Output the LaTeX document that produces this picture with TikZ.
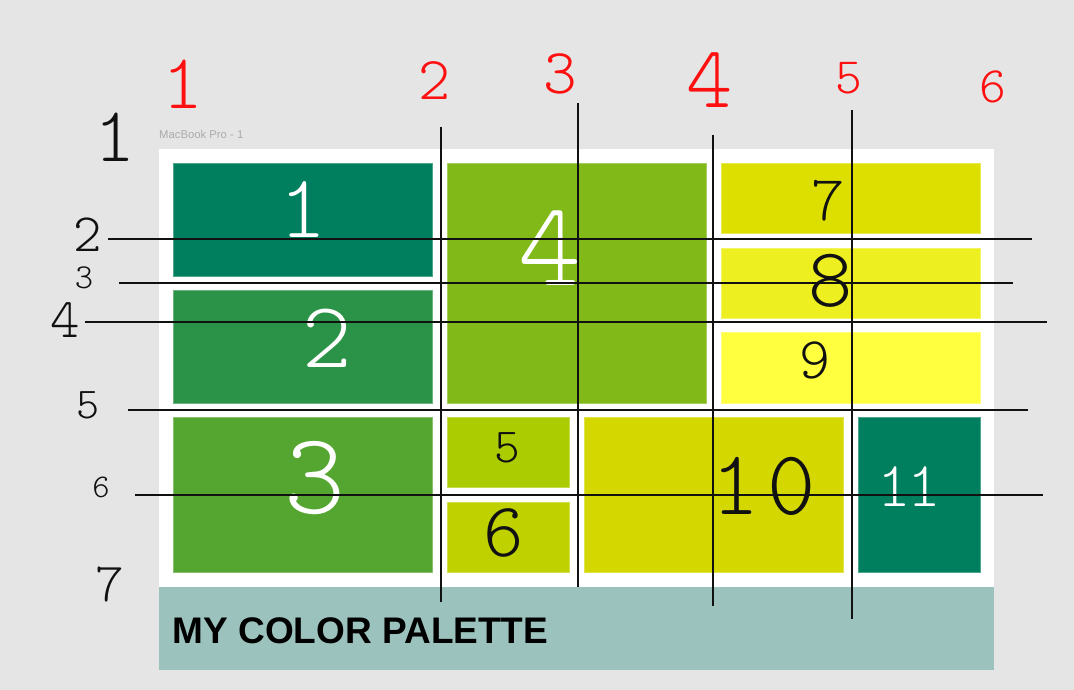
\documentclass[tikz,border=0pt]{standalone}
\usepackage{fontspec}
\setmainfont{Liberation Sans}
\newfontfamily\hand{lmmonolt10-regular.otf}
\definecolor{bgc}{HTML}{E5E5E5}
\definecolor{cA}{HTML}{007F5F}
\definecolor{cB}{HTML}{2B9348}
\definecolor{cC}{HTML}{55A630}
\definecolor{cD}{HTML}{80B918}
\definecolor{cE}{HTML}{AACC00}
\definecolor{cF}{HTML}{BFD200}
\definecolor{cG}{HTML}{DDDF00}
\definecolor{cH}{HTML}{EEEF20}
\definecolor{cI}{HTML}{FFFF3F}
\definecolor{cJ}{HTML}{D4D700}
\definecolor{tealbar}{HTML}{9BC2BD}
\definecolor{penred}{HTML}{FF1010}
\definecolor{penblack}{HTML}{111111}
\definecolor{labelgray}{HTML}{ABABAB}
\newcommand{\hsz}[1]{\fontsize{#1}{#1}\selectfont}
\tikzset{
  swatch/.style={draw=#1!70!white, line width=0.8pt, fill=#1},
  hand/.style={inner sep=0pt, anchor=center, font=\hand},
  gridline/.style={draw=penblack, line width=2.2pt},
}
\begin{document}
\begin{tikzpicture}[x=1pt,y=-1pt]
\useasboundingbox (0,0) rectangle (1074,690);
\fill[bgc] (0,0) rectangle (1074,690);
% frame
\fill[white] (159,149) rectangle (994,587);
\fill[tealbar] (159,587) rectangle (994,670);
\node[anchor=base west, inner sep=0pt, font=\fontsize{11.3}{12}\selectfont, text=labelgray] (frametitle) at (159,139) {MacBook Pro - 1};
\node[anchor=base west, inner sep=0pt, font=\bfseries\fontsize{37}{40}\selectfont] (title) at (172.5,643) {MY COLOR PALETTE};
% swatches
\path[swatch=cA] (173,163) rectangle (432,276);
\path[swatch=cB] (173,290) rectangle (432,403);
\path[swatch=cC] (173,417) rectangle (432,572);
\path[swatch=cD] (447,163) rectangle (706,403);
\path[swatch=cE] (447,417) rectangle (569,487);
\path[swatch=cF] (447,502) rectangle (569,572);
\path[swatch=cG] (721,163) rectangle (980,233);
\path[swatch=cH] (721,248) rectangle (980,318);
\path[swatch=cI] (721,332) rectangle (980,403);
\path[swatch=cJ] (584,417) rectangle (843,572);
\path[swatch=cA] (858,417) rectangle (980,572);
% numbers in swatches
\node[hand, text=white, font=\hand\hsz{90}] (s1) at (303,210) {1};
\node[hand, text=white, font=\hand\hsz{94}] (s2) at (327,338) {2};
\node[hand, text=white, font=\hand\hsz{116}] (s3) at (315,478) {3};
\node[hand, text=white, font=\hand\hsz{120}] (s4) at (550,248) {4};
\node[hand, text=penblack, font=\hand\hsz{49}] (s5) at (507,448) {5};
\node[hand, text=penblack, font=\hand\hsz{77}] (s6) at (504,533) {6};
\node[hand, text=penblack, font=\hand\hsz{64}] (s7) at (828,201) {7};
\node[hand, text=penblack, font=\hand\hsz{84}] (s8) at (831,281) {8};
\node[hand, text=penblack, font=\hand\hsz{59}] (s9) at (815,360) {9};
\node[hand, text=penblack, font=\hand\hsz{92}] (s10) at (764,486) {1\kern8pt0};
\node[hand, text=white, font=\hand\hsz{64}] (s11) at (909,487) {1\kern-4pt1};
% grid lines
\draw[gridline] (441,127) -- (441,602);
\draw[gridline] (578,103) -- (578,587);
\draw[gridline] (713,135) -- (713,606);
\draw[gridline] (852,110) -- (852,619);
\draw[gridline] (108,239) -- (1032,239);
\draw[gridline] (119,283) -- (1013,283);
\draw[gridline] (85,322) -- (1047,322);
\draw[gridline] (128,410) -- (1028,410);
\draw[gridline] (135,495) -- (1043,495);
% column numbers (red)
\node[hand, text=penred, font=\hand\hsz{78}] (c1) at (183,84) {1};
\node[hand, text=penred, font=\hand\hsz{61}] (c2) at (435,81) {2};
\node[hand, text=penred, font=\hand\hsz{64}] (c3) at (560,74) {3};
\node[hand, text=penred, font=\hand\hsz{88}] (c4) at (710,80) {4};
\node[hand, text=penred, font=\hand\hsz{51}] (c5) at (849,78) {5};
\node[hand, text=penred, font=\hand\hsz{51}] (c6) at (993,87) {6};
% row numbers (black)
\node[hand, text=penblack, font=\hand\hsz{78}] (w1) at (115,137) {1};
\node[hand, text=penblack, font=\hand\hsz{54}] (w2) at (88,235) {2};
\node[hand, text=penblack, font=\hand\hsz{35}] (w3) at (84,278) {3};
\node[hand, text=penblack, font=\hand\hsz{56}] (w4) at (65,320) {4};
\node[hand, text=penblack, font=\hand\hsz{44}] (w5) at (88,405) {5};
\node[hand, text=penblack, font=\hand\hsz{33}] (w6) at (101,487) {6};
\node[hand, text=penblack, font=\hand\hsz{55}] (w7) at (110,585) {7};
\end{tikzpicture}
\end{document}
